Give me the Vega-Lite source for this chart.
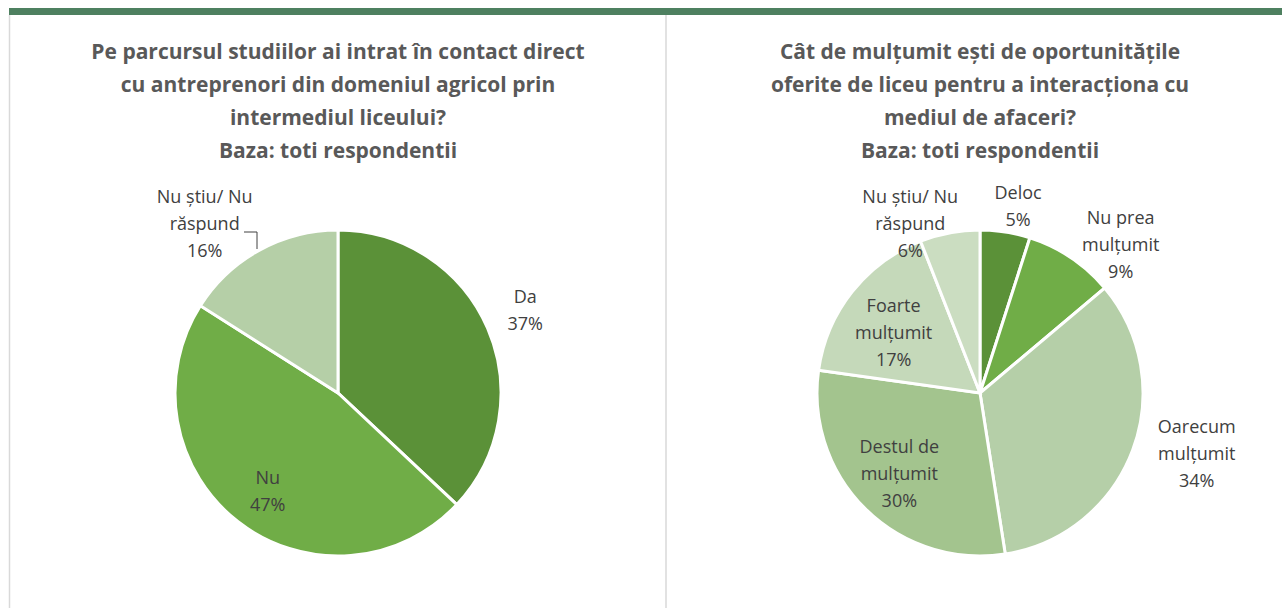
{
  "$schema": "https://vega.github.io/schema/vega-lite/v6.json",
  "autosize": {"type": "fit", "contains": "padding"},
  "width": 1282,
  "height": 608,
  "padding": 0,
  "background": "white",
  "config": {"view": {"stroke": null}, "text": {"font": "Open Sans"}},
  "datasets": {
    "pies": [
      {"panel": "A", "cat": "Da", "value": 37, "i": 1, "lines": ["Da", "37%"]},
      {"panel": "A", "cat": "Nu", "value": 47, "i": 2, "lines": ["Nu", "47%"]},
      {"panel": "A", "cat": "Nu știu/ Nu răspund", "value": 16, "i": 3, "lines": ["Nu știu/ Nu", "răspund", "16%"]},
      {"panel": "B", "cat": "Deloc", "value": 5, "i": 1, "lines": ["Deloc", "5%"]},
      {"panel": "B", "cat": "Nu prea mulțumit", "value": 9, "i": 2, "lines": ["Nu prea", "mulțumit", "9%"]},
      {"panel": "B", "cat": "Oarecum mulțumit", "value": 34, "i": 3, "lines": ["Oarecum", "mulțumit", "34%"]},
      {"panel": "B", "cat": "Destul de mulțumit", "value": 30, "i": 4, "lines": ["Destul de", "mulțumit", "30%"]},
      {"panel": "B", "cat": "Foarte mulțumit", "value": 17, "i": 5, "lines": ["Foarte", "mulțumit", "17%"]},
      {"panel": "B", "cat": "Nu știu/ Nu răspund", "value": 6, "i": 6, "lines": ["Nu știu/ Nu", "răspund", "6%"]}
    ],
    "titles": [
      {"panel": "A", "t": ["Pe parcursul studiilor ai intrat în contact direct", "cu antreprenori din domeniul agricol prin", "intermediul liceului?", "Baza: toti respondentii"]},
      {"panel": "B", "t": ["Cât de mulțumit ești de oportunitățile", "oferite de liceu pentru a interacționa cu", "mediul de afaceri?", "Baza: toti respondentii"]}
    ]
  },
  "resolve": {"scale": {"theta": "independent", "color": "independent"}},
  "layer": [
    {
      "data": {"values": [{}]},
      "mark": {"type": "rect", "color": "#4E8060"},
      "encoding": {"x": {"value": 9}, "x2": {"value": 1282}, "y": {"value": 8}, "y2": {"value": 15}}
    },
    {
      "data": {"values": [{}]},
      "mark": {"type": "rule", "color": "#D9D9D9", "strokeWidth": 1.5},
      "encoding": {"x": {"value": 9.5}, "y": {"value": 15}, "y2": {"value": 608}}
    },
    {
      "data": {"values": [{}]},
      "mark": {"type": "rule", "color": "#D9D9D9", "strokeWidth": 1.5},
      "encoding": {"x": {"value": 666}, "y": {"value": 15}, "y2": {"value": 608}}
    },
    {
      "data": {"values": [{}]},
      "mark": {"type": "rule", "color": "#404040", "strokeWidth": 1},
      "encoding": {"x": {"value": 244}, "x2": {"value": 257}, "y": {"value": 232}}
    },
    {
      "data": {"values": [{}]},
      "mark": {"type": "rule", "color": "#404040", "strokeWidth": 1},
      "encoding": {"x": {"value": 257}, "y": {"value": 232}, "y2": {"value": 249}}
    },
    {
      "data": {"name": "titles"},
      "mark": {"type": "text", "font": "Open Sans", "fontWeight": "bold", "fontSize": 21, "color": "#595959", "lineHeight": 33, "baseline": "middle", "align": "center"},
      "encoding": {
        "x": {"field": "panel", "type": "nominal", "scale": {"type": "point", "domain": ["A", "B"], "range": [338, 980], "padding": 0}, "axis": null},
        "y": {"value": 53},
        "text": {"field": "t"}
      }
    },
    {
      "data": {"name": "pies"},
      "transform": [
        {"filter": "datum.panel == 'A'"},
        {"stack": "value", "groupby": ["panel"], "sort": [{"field": "i"}], "as": ["v0", "v1"]},
        {"calculate": "(datum.v0 + datum.v1) / 2", "as": "mid"}
      ],
      "encoding": {
        "x": {"field": "panel", "type": "nominal", "scale": {"type": "point", "domain": ["A", "B"], "range": [338, 980], "padding": 0}, "axis": null},
        "y": {"value": 393}
      },
      "layer": [
        {
          "mark": {"type": "arc", "outerRadius": 163, "stroke": "white", "strokeWidth": 3},
          "encoding": {
            "theta": {"field": "v0", "type": "quantitative", "stack": null, "scale": {"domain": [0, 100]}},
            "theta2": {"field": "v1"},
            "color": {"field": "cat", "type": "nominal", "legend": null, "scale": {"domain": ["Da", "Nu", "Nu știu/ Nu răspund"], "range": ["#5B9138", "#70AD47", "#B5CFA7"]}}
          }
        },
        {
          "transform": [{"filter": "datum.cat == 'Da'"}],
          "mark": {"type": "text", "radius": 204, "dy": -13.5, "fontSize": 18, "lineHeight": 27, "color": "#404040"},
          "encoding": {"theta": {"field": "mid", "type": "quantitative", "stack": null}, "text": {"field": "lines"}}
        },
        {
          "transform": [{"filter": "datum.cat == 'Nu'"}],
          "mark": {"type": "text", "radius": 126, "dx": 7, "dy": -13.5, "fontSize": 18, "lineHeight": 27, "color": "#404040"},
          "encoding": {"theta": {"field": "mid", "type": "quantitative", "stack": null}, "text": {"field": "lines"}}
        },
        {
          "transform": [{"filter": "datum.cat == 'Nu știu/ Nu răspund'"}],
          "mark": {"type": "text", "radius": 200, "dx": -37, "dy": -20, "fontSize": 18, "lineHeight": 27, "color": "#404040"},
          "encoding": {"theta": {"field": "mid", "type": "quantitative", "stack": null}, "text": {"field": "lines"}}
        }
      ]
    },
    {
      "data": {"name": "pies"},
      "transform": [
        {"filter": "datum.panel == 'B'"},
        {"stack": "value", "groupby": ["panel"], "sort": [{"field": "i"}], "as": ["v0", "v1"]},
        {"calculate": "(datum.v0 + datum.v1) / 2", "as": "mid"}
      ],
      "encoding": {
        "x": {"field": "panel", "type": "nominal", "scale": {"type": "point", "domain": ["A", "B"], "range": [338, 980], "padding": 0}, "axis": null},
        "y": {"value": 393}
      },
      "layer": [
        {
          "mark": {"type": "arc", "outerRadius": 163, "stroke": "white", "strokeWidth": 3},
          "encoding": {
            "theta": {"field": "v0", "type": "quantitative", "stack": null, "scale": {"domain": [0, 101]}},
            "theta2": {"field": "v1"},
            "color": {"field": "cat", "type": "nominal", "legend": null, "scale": {"domain": ["Deloc", "Nu prea mulțumit", "Oarecum mulțumit", "Destul de mulțumit", "Foarte mulțumit", "Nu știu/ Nu răspund"], "range": ["#5B9138", "#70AD47", "#B5CFA8", "#A3C48E", "#C5D9BA", "#CBDDC1"]}}
          }
        },
        {
          "transform": [{"filter": "datum.cat == 'Deloc'"}],
          "mark": {"type": "text", "radius": 188, "dx": 9, "dy": -13.5, "fontSize": 18, "lineHeight": 27, "color": "#404040"},
          "encoding": {"theta": {"field": "mid", "type": "quantitative", "stack": null}, "text": {"field": "lines"}}
        },
        {
          "transform": [{"filter": "datum.cat == 'Nu prea mulțumit'"}],
          "mark": {"type": "text", "radius": 204, "dx": 27, "dy": -5, "fontSize": 18, "lineHeight": 27, "color": "#404040"},
          "encoding": {"theta": {"field": "mid", "type": "quantitative", "stack": null}, "text": {"field": "lines"}}
        },
        {
          "transform": [{"filter": "datum.cat == 'Oarecum mulțumit'"}],
          "mark": {"type": "text", "radius": 226, "dx": 5, "dy": -44, "fontSize": 18, "lineHeight": 27, "color": "#404040"},
          "encoding": {"theta": {"field": "mid", "type": "quantitative", "stack": null}, "text": {"field": "lines"}}
        },
        {
          "transform": [{"filter": "datum.cat == 'Destul de mulțumit'"}],
          "mark": {"type": "text", "radius": 115, "dy": -27, "fontSize": 18, "lineHeight": 27, "color": "#404040"},
          "encoding": {"theta": {"field": "mid", "type": "quantitative", "stack": null}, "text": {"field": "lines"}}
        },
        {
          "transform": [{"filter": "datum.cat == 'Foarte mulțumit'"}],
          "mark": {"type": "text", "radius": 105, "dx": -4, "dy": -21, "fontSize": 18, "lineHeight": 27, "color": "#404040"},
          "encoding": {"theta": {"field": "mid", "type": "quantitative", "stack": null}, "text": {"field": "lines"}}
        },
        {
          "transform": [{"filter": "datum.cat == 'Nu știu/ Nu răspund'"}],
          "mark": {"type": "text", "radius": 182, "dx": -36, "dy": -16, "fontSize": 18, "lineHeight": 27, "color": "#404040"},
          "encoding": {"theta": {"field": "mid", "type": "quantitative", "stack": null}, "text": {"field": "lines"}}
        }
      ]
    }
  ]
}
